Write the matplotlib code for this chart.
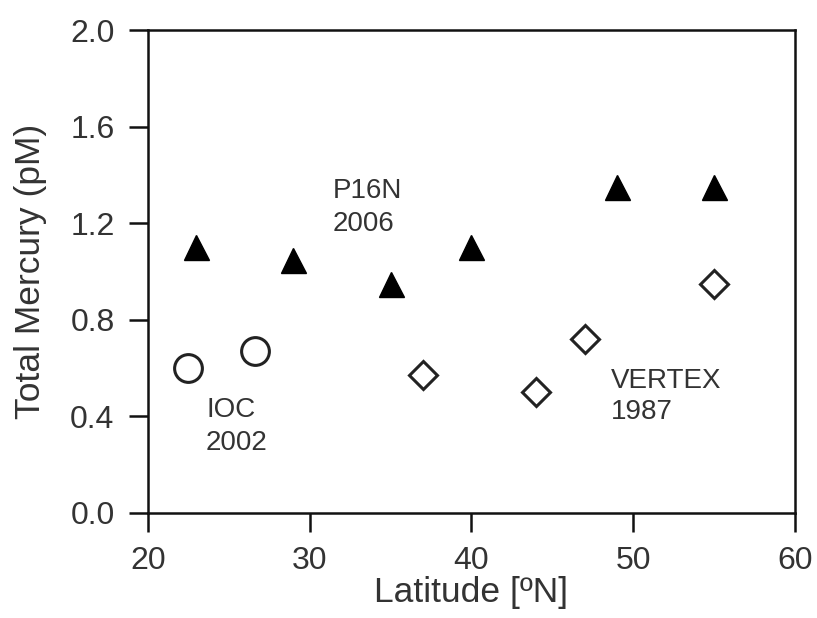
import matplotlib
matplotlib.use("Agg")
import matplotlib.pyplot as plt

plt.rcParams['font.family'] = ['Liberation Sans', 'DejaVu Sans']

# Daten
p16n_lat = [23, 29, 35, 40, 49, 55]
p16n_hg = [1.10, 1.05, 0.95, 1.10, 1.35, 1.35]

ioc_lat = [22.5, 26.6]
ioc_hg = [0.60, 0.67]

vertex_lat = [37, 44, 47, 55]
vertex_hg = [0.57, 0.50, 0.72, 0.95]

text_color = '#333333'

fig = plt.figure(figsize=(8.17, 6.18), dpi=100)
ax = fig.add_axes([0.181, 0.170, 0.792, 0.781])

ax.plot(p16n_lat, p16n_hg, linestyle='none', marker='^', markersize=18,
        color='black')
ax.plot(ioc_lat, ioc_hg, linestyle='none', marker='o', markersize=20,
        markerfacecolor='white', markeredgecolor='#222222', markeredgewidth=2.2)
ax.plot(vertex_lat, vertex_hg, linestyle='none', marker='D', markersize=14,
        markerfacecolor='white', markeredgecolor='#222222', markeredgewidth=2.2)

ax.text(31.4, 1.387, 'P16N\n2006', fontsize=20, color=text_color,
        va='top', ha='left', linespacing=1.36)
ax.text(23.6, 0.480, 'IOC\n2002', fontsize=20, color=text_color,
        va='top', ha='left', linespacing=1.36)
ax.text(48.6, 0.600, 'VERTEX\n1987', fontsize=20, color=text_color,
        va='top', ha='left', linespacing=1.22)

ax.set_xlim(20, 60)
ax.set_ylim(0, 2.0)
ax.set_xticks([20, 30, 40, 50, 60])
ax.set_yticks([0.0, 0.4, 0.8, 1.2, 1.6, 2.0])
ax.set_yticklabels(['0.0', '0.4', '0.8', '1.2', '1.6', '2.0'])

for s in ax.spines.values():
    s.set_linewidth(1.8)
    s.set_color('#111111')
ax.tick_params(direction='out', length=14, width=1.8, labelsize=23,
               labelcolor=text_color, color='#111111', pad=10)

ax.set_xlabel('Latitude [ºN]', fontsize=25.5, color=text_color, labelpad=0)
ax.set_ylabel('Total Mercury (pM)', fontsize=25.5, color=text_color, labelpad=17)

fig.savefig('out.png', dpi=100)
